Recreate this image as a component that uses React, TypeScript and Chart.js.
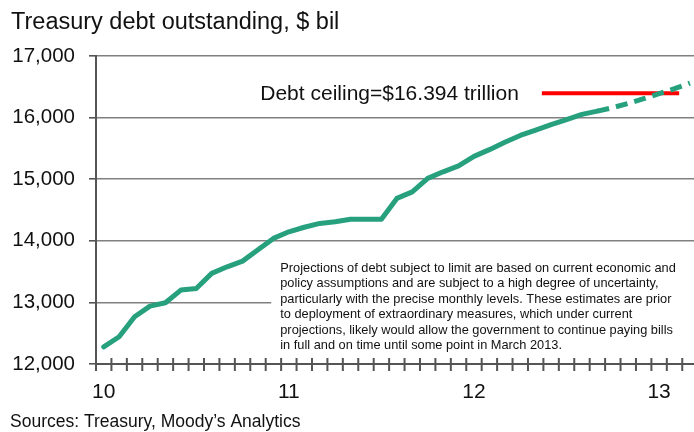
import React, { useRef, useEffect } from 'react';
import { Chart, registerables } from 'chart.js';

Chart.register(...registerables);

const FONT = '"Liberation Sans", Arial, sans-serif';

// monthly, Jan 2010 .. Mar 2013
const months = [
  'Jan 10', 'Feb 10', 'Mar 10', 'Apr 10', 'May 10', 'Jun 10', 'Jul 10', 'Aug 10', 'Sep 10', 'Oct 10', 'Nov 10', 'Dec 10',
  'Jan 11', 'Feb 11', 'Mar 11', 'Apr 11', 'May 11', 'Jun 11', 'Jul 11', 'Aug 11', 'Sep 11', 'Oct 11', 'Nov 11', 'Dec 11',
  'Jan 12', 'Feb 12', 'Mar 12', 'Apr 12', 'May 12', 'Jun 12', 'Jul 12', 'Aug 12', 'Sep 12', 'Oct 12', 'Nov 12', 'Dec 12',
  'Jan 13', 'Feb 13', 'Mar 13'
];

// actual debt, $ bil (Jan 2010 .. Sep 2012)
const actualDebt = [
  12279, 12442, 12766, 12940, 12994, 13200, 13227, 13471, 13578, 13670, 13855, 14039,
  14146, 14220, 14282, 14308, 14350, 14350, 14350, 14688, 14795, 15013, 15120, 15215,
  15370, 15480, 15600, 15710, 15797, 15886, 15968, 16052, 16106
];

// projection, $ bil (Sep 2012 .. Mar 2013)
const projectedDebt = [16106, 16162, 16230, 16307, 16388, 16470, 16560];
const projectionStart = 32;

const debtCeiling = 16394;
const ceilingFrom = 28.4; // month offsets on the linear helper axis
const ceilingTo = 37.3;

const noteLines = [
  'Projections of debt subject to limit are based on current economic and',
  'policy assumptions and are subject to a high degree of uncertainty,',
  'particularly with the precise monthly levels. These estimates are prior',
  'to deployment of extraordinary measures, which under current',
  'projections, likely would allow the government to continue paying bills',
  'in full and on time until some point in March 2013.'
];

const overlay = {
  id: 'overlay',
  beforeDatasetsDraw(chart: any) {
    const { ctx, chartArea } = chart;
    const xl = chart.scales.xl;
    const left = xl.getPixelForValue(10.86);
    const top = chartArea.top + 194;
    ctx.save();
    ctx.fillStyle = '#ffffff';
    ctx.fillRect(left, top, chartArea.right - left, chartArea.bottom - 8 - top);
    ctx.fillStyle = '#111111';
    ctx.font = `12.8px ${FONT}`;
    ctx.textBaseline = 'alphabetic';
    noteLines.forEach((line, i) => ctx.fillText(line, left + 9, top + 21.5 + i * 15.5));
    ctx.restore();
  },
  afterDraw(chart: any) {
    const { ctx, chartArea } = chart;
    const xl = chart.scales.xl;
    const y = chart.scales.y;
    ctx.save();
    // month ticks crossing the x axis
    ctx.strokeStyle = '#555555';
    ctx.lineWidth = 2;
    ctx.beginPath();
    for (let i = 0; i <= months.length; i++) {
      const px = xl.getPixelForValue(i - 0.5);
      ctx.moveTo(px, chartArea.bottom - 6);
      ctx.lineTo(px, chartArea.bottom + 7);
    }
    ctx.stroke();

    ctx.fillStyle = '#111111';
    ctx.textBaseline = 'alphabetic';
    ctx.font = `23.5px ${FONT}`;
    ctx.fillText('Treasury debt outstanding, $ bil', 11, 29);
    ctx.font = `17.5px ${FONT}`;
    ctx.fillText('Sources: Treasury, Moody\u2019s Analytics', 10, 427);

    ctx.font = `21px ${FONT}`;
    ctx.textAlign = 'right';
    ctx.fillText('Debt ceiling=$16.394 trillion', xl.getPixelForValue(ceilingFrom) - 23, y.getPixelForValue(debtCeiling) + 7);
    ctx.restore();
  }
};

const App: React.FC = () => {
  const chartRef = useRef<HTMLCanvasElement>(null);
  const chartInstance = useRef<Chart | null>(null);

  useEffect(() => {
    document.body.style.margin = '0';
    if (!chartRef.current) return;
    if (chartInstance.current) chartInstance.current.destroy();

    const solid = months.map((_, i) => (i < actualDebt.length ? actualDebt[i] : null));
    const dashed = months.map((_, i) =>
      i >= projectionStart && i - projectionStart < projectedDebt.length ? projectedDebt[i - projectionStart] : null
    );

    chartInstance.current = new Chart(chartRef.current, {
      type: 'line',
      data: {
        labels: months,
        datasets: [
          {
            label: 'Actual',
            data: solid,
            borderColor: '#27a07e',
            borderWidth: 5,
            pointRadius: 0,
            tension: 0,
            borderJoinStyle: 'round',
            borderCapStyle: 'round'
          },
          {
            label: 'Projected',
            data: dashed,
            borderColor: '#27a07e',
            borderWidth: 5,
            borderDash: [12, 7],
            pointRadius: 0,
            tension: 0
          },
          {
            label: 'Debt ceiling',
            data: [
              { x: ceilingFrom, y: debtCeiling },
              { x: ceilingTo, y: debtCeiling }
            ],
            xAxisID: 'xl',
            borderColor: '#ff0000',
            borderWidth: 4,
            pointRadius: 0
          }
        ]
      },
      options: {
        responsive: false,
        animation: false,
        layout: { padding: { top: 56, right: 3, left: 0, bottom: 0 } },
        plugins: {
          legend: { display: false },
          tooltip: { enabled: false }
        },
        scales: {
          x: {
            type: 'category',
            offset: true,
            grid: { offset: true, drawOnChartArea: false, drawTicks: false },
            border: { display: true, color: '#555555', width: 2 },
            ticks: {
              autoSkip: false,
              maxRotation: 0,
              padding: 16,
              color: '#111111',
              font: { family: FONT, size: 21 },
              callback: (_v: any, index: number) =>
                months[index].startsWith('Jan') ? months[index].slice(4) : ''
            },
            afterFit: (scale: any) => {
              scale.height = 68;
            }
          },
          xl: {
            type: 'linear',
            display: false,
            min: -0.5,
            max: months.length - 0.5
          },
          y: {
            min: 12000,
            max: 17000,
            ticks: {
              stepSize: 1000,
              padding: 14,
              color: '#111111',
              font: { family: FONT, size: 20.5 },
              callback: (v: any) => Number(v).toLocaleString('en-US')
            },
            grid: {
              color: (c: any) => (c.tick && c.tick.value === 12000 ? 'rgba(0,0,0,0)' : '#808080'),
              lineWidth: 1.6,
              tickColor: '#555555',
              tickLength: 7
            },
            border: { display: true, color: '#555555', width: 2 },
            afterFit: (scale: any) => {
              scale.width = 96;
            }
          }
        }
      },
      plugins: [overlay]
    });

    return () => {
      if (chartInstance.current) {
        chartInstance.current.destroy();
        chartInstance.current = null;
      }
    };
  }, []);

  return (
    <div style={{ width: '694px', height: '432px', overflow: 'hidden', position: 'relative', background: '#fff' }}>
      <canvas ref={chartRef} width={706} height={432} style={{ width: '706px', height: '432px', display: 'block' }} />
    </div>
  );
};

export default App;
